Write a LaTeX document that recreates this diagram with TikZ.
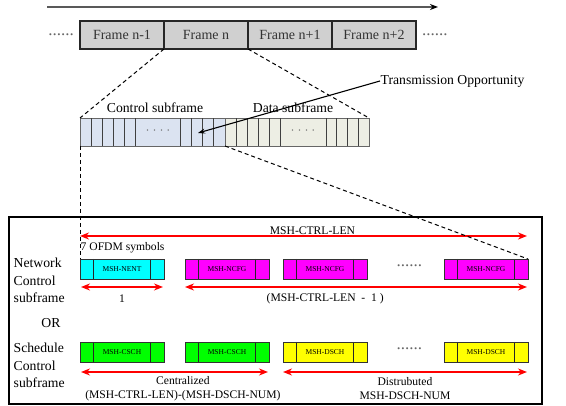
\documentclass[tikz,border=0pt]{standalone}
\usepackage{fontspec}
\setmainfont{Liberation Serif}
\usetikzlibrary{arrows.meta, positioning, calc}
\definecolor{ctrlblue}{RGB}{219,227,241}
\definecolor{databeige}{RGB}{237,238,228}
\definecolor{framegray}{RGB}{208,208,208}
\definecolor{nentcyan}{RGB}{0,255,255}
\definecolor{ncfgmagenta}{RGB}{255,0,255}
\definecolor{cschgreen}{RGB}{0,255,0}
\definecolor{dschyellow}{RGB}{255,255,0}
\tikzset{
    frameblock/.style={
        rectangle,
        draw=black!85,
        line width=1.1pt,
        fill=framegray,
        minimum width=84pt,
        minimum height=28pt,
        inner sep=0pt,
        outer sep=0pt,
        text=black!80,
        font=\fontsize{14}{16}\selectfont
    },
    subpart/.style={
        rectangle,
        draw=black!60,
        line width=0.8pt,
        minimum height=28pt,
        inner sep=0pt,
        outer sep=0pt
    },
    cell/.style={
        draw=black!75,
        line width=0.8pt
    },
    slot/.style={
        rectangle,
        draw=black!80,
        line width=0.9pt,
        minimum width=84pt,
        minimum height=20pt,
        inner sep=0pt,
        outer sep=0pt,
        font=\fontsize{7.5}{8}\selectfont,
        path picture={
            \draw[line width=1.2pt, black!85]
                ([xshift=13.5pt]path picture bounding box.north west) --
                ([xshift=13.5pt]path picture bounding box.south west);
            \draw[line width=1.2pt, black!85]
                ([xshift=-13.5pt]path picture bounding box.north east) --
                ([xshift=-13.5pt]path picture bounding box.south east);
        }
    },
    nent/.style={slot, fill=nentcyan},
    ncfg/.style={slot, fill=ncfgmagenta},
    csch/.style={slot, fill=cschgreen},
    dsch/.style={slot, fill=dschyellow},
    panel/.style={
        rectangle,
        draw=black,
        line width=2pt,
        minimum width=533pt,
        minimum height=187pt,
        inner sep=0pt
    },
    timeline/.style={
        -{Stealth[length=8pt, width=6pt, color=black]},
        draw=black!65,
        line width=1.5pt
    },
    pointer/.style={
        -{Stealth[length=7pt, width=5pt]},
        line width=1.1pt
    },
    zoomline/.style={
        line width=1pt,
        dash pattern=on 4pt off 3pt
    },
    spanarrow/.style={
        {Stealth[length=9pt, width=7pt]}-{Stealth[length=9pt, width=7pt]},
        draw=red,
        line width=1.5pt
    },
    biglabel/.style={
        inner sep=0.5pt,
        font=\fontsize{13.7}{17.5}\selectfont
    },
    smalllabel/.style={
        inner sep=0.5pt,
        font=\fontsize{11.6}{14}\selectfont
    },
    dots/.style={
        inner sep=0pt,
        text=black!60,
        font=\fontsize{17}{17}\selectfont
    },
    celldots/.style={
        inner sep=0pt,
        text=black!60,
        font=\fontsize{12}{12}\selectfont
    }
}

\begin{document}
\begin{tikzpicture}[x=1pt, y=1pt]
    \useasboundingbox (0,0) rectangle (566,-406);

    % Time axis
    \coordinate (tstart) at (47,-7);
    \coordinate (tend) at (438,-7);
    \draw[timeline] (tstart) -- (tend);

    % Frames
    \node[frameblock] (fm1) at (122,-35) {Frame n-1};
    \node[frameblock, right=0pt of fm1] (f0) {Frame n};
    \node[frameblock, right=0pt of f0] (fp1) {Frame n+1};
    \node[frameblock, right=0pt of fp1] (fp2) {Frame n+2};
    \node[dots, left=6pt of fm1] (ldots) {......};
    \node[dots, right=6pt of fp2] (rdots) {......};

    % Frame n, control and data subframes
    \node[subpart, fill=ctrlblue, minimum width=145pt] (ctrl) at (152.5,-132) {};
    \node[subpart, fill=databeige, minimum width=144pt, right=0pt of ctrl] (data) {};
    \foreach \k in {1,...,5} {
        \draw[cell] ($(ctrl.south west)+(\k*11.1,0)$) -- ($(ctrl.north west)+(\k*11.1,0)$);
        \draw[cell] ($(data.south west)+(\k*11.1,0)$) -- ($(data.north west)+(\k*11.1,0)$);
    }
    \foreach \k in {1,...,4} {
        \draw[cell] ($(ctrl.south east)+(-\k*11.25,0)$) -- ($(ctrl.north east)+(-\k*11.25,0)$);
        \draw[cell] ($(data.south east)+(-\k*10.75,0)$) -- ($(data.north east)+(-\k*10.75,0)$);
    }
    \node[celldots] (cdots) at ($(ctrl.west)+(78,0)$) {· · · ·};
    \node[celldots] (ddots) at ($(data.west)+(78,0)$) {· · · ·};
    \node[biglabel] (ctrllbl) at (155,-108) {Control subframe};
    \node[biglabel] (datalbl) at (293,-108) {Data subframe};

    % Transmission opportunity
    \node[biglabel, anchor=west] (txop) at (380,-81) {Transmission Opportunity};
    \coordinate (txtip) at (198,-133);
    \draw[pointer] (txop.west) -- (txtip);

    % Control subframe detail
    \node[panel] (panel) at (275.5,-310.5) {};

    % Network control subframe
    \node[nent] (nent) at (122,-269) {MSH-NENT};
    \node[ncfg, right=21pt of nent] (ncfg1) {MSH-NCFG};
    \node[ncfg, right=14pt of ncfg1] (ncfg2) {MSH-NCFG};
    \node[ncfg, right=77pt of ncfg2] (ncfg3) {MSH-NCFG};
    \node[dots] (ndots) at ($(ncfg2.east)!0.55!(ncfg3.west)+(0,3)$) {......};
    \node[smalllabel, anchor=west] (ofdm) at ($(nent.north west)+(0,11)$) {7 OFDM symbols};
    \node[biglabel, anchor=west, align=left] (netlbl) at (13,-280.5) {Network\\Control\\subframe};

    % Schedule control subframe
    \node[csch, below=63pt of nent] (csch1) {MSH-CSCH};
    \node[csch, right=21pt of csch1] (csch2) {MSH-CSCH};
    \node[dsch, right=14pt of csch2] (dsch1) {MSH-DSCH};
    \node[dsch, right=77pt of dsch1] (dsch2) {MSH-DSCH};
    \node[dots] (sdots) at ($(dsch1.east)!0.55!(dsch2.west)+(0,3)$) {......};
    \node[biglabel, anchor=west, align=left] (schlbl) at (13,-365.5) {Schedule\\Control\\subframe};
    \node[biglabel] (orlbl) at (51,-323) {OR};

    % Lengths
    \draw[spanarrow] ($(nent.north west)+(0,23)$) -- ($(ncfg3.north east)+(-1,23)$)
        node[smalllabel, pos=0.52, anchor=south] {MSH-CTRL-LEN};
    \draw[spanarrow] ($(nent.south west)+(1,-8)$) -- ($(nent.south east)+(-1,-8)$)
        node[smalllabel, midway, yshift=-12pt] {1};
    \draw[spanarrow] ($(ncfg1.south west)+(0,-8)$) -- ($(ncfg3.south east)+(-1,-8)$)
        node[smalllabel, pos=0.41, yshift=-12pt] {(MSH-CTRL-LEN\ \ -\ \ 1 )};
    \draw[spanarrow] ($(csch1.south west)+(1,-10)$) -- ($(csch2.south east)+(-1,-10)$)
        node[smalllabel, align=center, pos=0.545, yshift=-17pt] {Centralized\\(MSH-CTRL-LEN)-(MSH-DSCH-NUM)};
    \draw[spanarrow] ($(dsch1.south west)+(0,-10)$) -- ($(dsch2.south east)+(-1,-10)$)
        node[smalllabel, align=center, midway, yshift=-17pt] {Distrubuted\\MSH-DSCH-NUM};

    % Zoom lines
    \draw[zoomline] (f0.south west) -- (ctrl.north west);
    \draw[zoomline] (f0.south east) -- (data.north east);
    \draw[zoomline] (ctrl.south west) -- (nent.north west);
    \draw[zoomline] (data.south west) -- (ncfg3.north east);

\end{tikzpicture}
\end{document}
